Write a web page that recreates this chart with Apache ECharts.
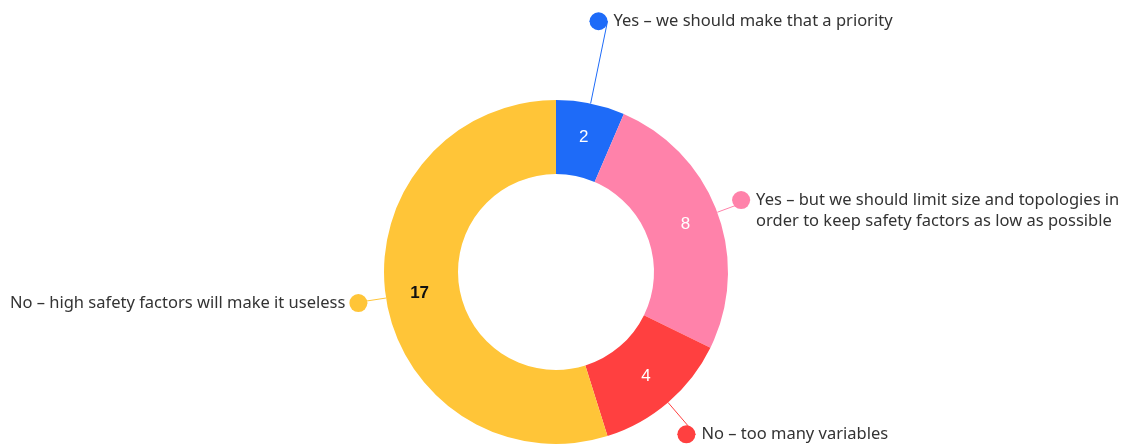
<!DOCTYPE html>
<html><head><meta charset="utf-8">
<style>html,body{margin:0;padding:0;background:#fff}#c{width:1122px;height:446px}</style>
<script src="https://cdn.jsdelivr.net/npm/echarts@6/dist/echarts.min.js"></script>
</head><body><div id="c"></div>
<script>
const categories = [
  "Yes – we should make that a priority",
  "Yes – but we should limit size and topologies in\norder to keep safety factors as low as possible",
  "No – too many variables",
  "No – high safety factors will make it useless"
];
const values = [2, 8, 4, 17];

// styling (kept apart from data)
const colors = ["#1e6bf8", "#ff82aa", "#ff4040", "#ffc538"];
const innerLabelColors = ["#ffffff", "#ffffff", "#ffffff", "#111111"];
const innerLabelWeights = ["normal", "normal", "normal", "bold"];
const lineLens = [84, 35, 42, 33];
const lineLens2 = [-18, -18, -18, -14];
const center = [556, 272];
const radius = [98, 172];
const FONT = "'Noto Sans', sans-serif";

const chart = echarts.init(document.getElementById('c'));

const innerData = values.map((v, i) => ({
  value: v, name: categories[i],
  itemStyle: { color: colors[i] },
  label: { color: innerLabelColors[i], fontWeight: innerLabelWeights[i] }
}));

const outerData = values.map((v, i) => {
  const left = i === 3;
  const multi = categories[i].indexOf('\n') >= 0;
  let fmt;
  if (left) fmt = '{t|' + categories[i] + '}{g2|}{d' + i + '|}';
  else if (multi) {
    const parts = categories[i].split('\n');
    fmt = '{d' + i + '|}{g|}{t|' + parts[0] + '}\n{s|}{g|}{t|' + parts[1] + '}';
  } else fmt = '{d' + i + '|}{g|}{t|' + categories[i] + '}';
  return {
    value: v, name: categories[i],
    itemStyle: { color: 'rgba(0,0,0,0)' },
    labelLine: { length: lineLens[i], length2: lineLens2[i], lineStyle: { color: colors[i], width: 1 } },
    label: {
      formatter: fmt,
      padding: multi ? [21, 0, 0, 0] : 0
    }
  };
});

const rich = {
  t: { fontFamily: FONT, fontSize: 16.5, color: '#333', lineHeight: 21 },
  s: { width: 18, height: 18 },
  g: { width: 6, height: 18 },
  g2: { width: 4, height: 18 }
};
colors.forEach((c, i) => { rich['d' + i] = { width: 18, height: 18, borderRadius: 9, backgroundColor: c }; });

chart.setOption({
  animation: false,
  series: [
    {
      type: 'pie', radius: radius, center: center, startAngle: 90, clockwise: true,
      silent: true,
      label: { position: 'inside', formatter: '{c}', fontFamily: "'Liberation Sans', Arial, sans-serif", fontSize: 17 },
      labelLine: { show: false },
      emphasis: { disabled: true },
      data: innerData
    },
    {
      type: 'pie', radius: radius, center: center, startAngle: 90, clockwise: true,
      silent: true, z: 1,
      avoidLabelOverlap: false,
      label: { position: 'outside', distanceToLabelLine: 0, rich: rich, alignTo: 'none' },
      labelLine: { show: true, smooth: false, minTurnAngle: 0, maxSurfaceAngle: 0 },
      emphasis: { disabled: true },
      data: outerData
    }
  ]
});
</script></body></html>
